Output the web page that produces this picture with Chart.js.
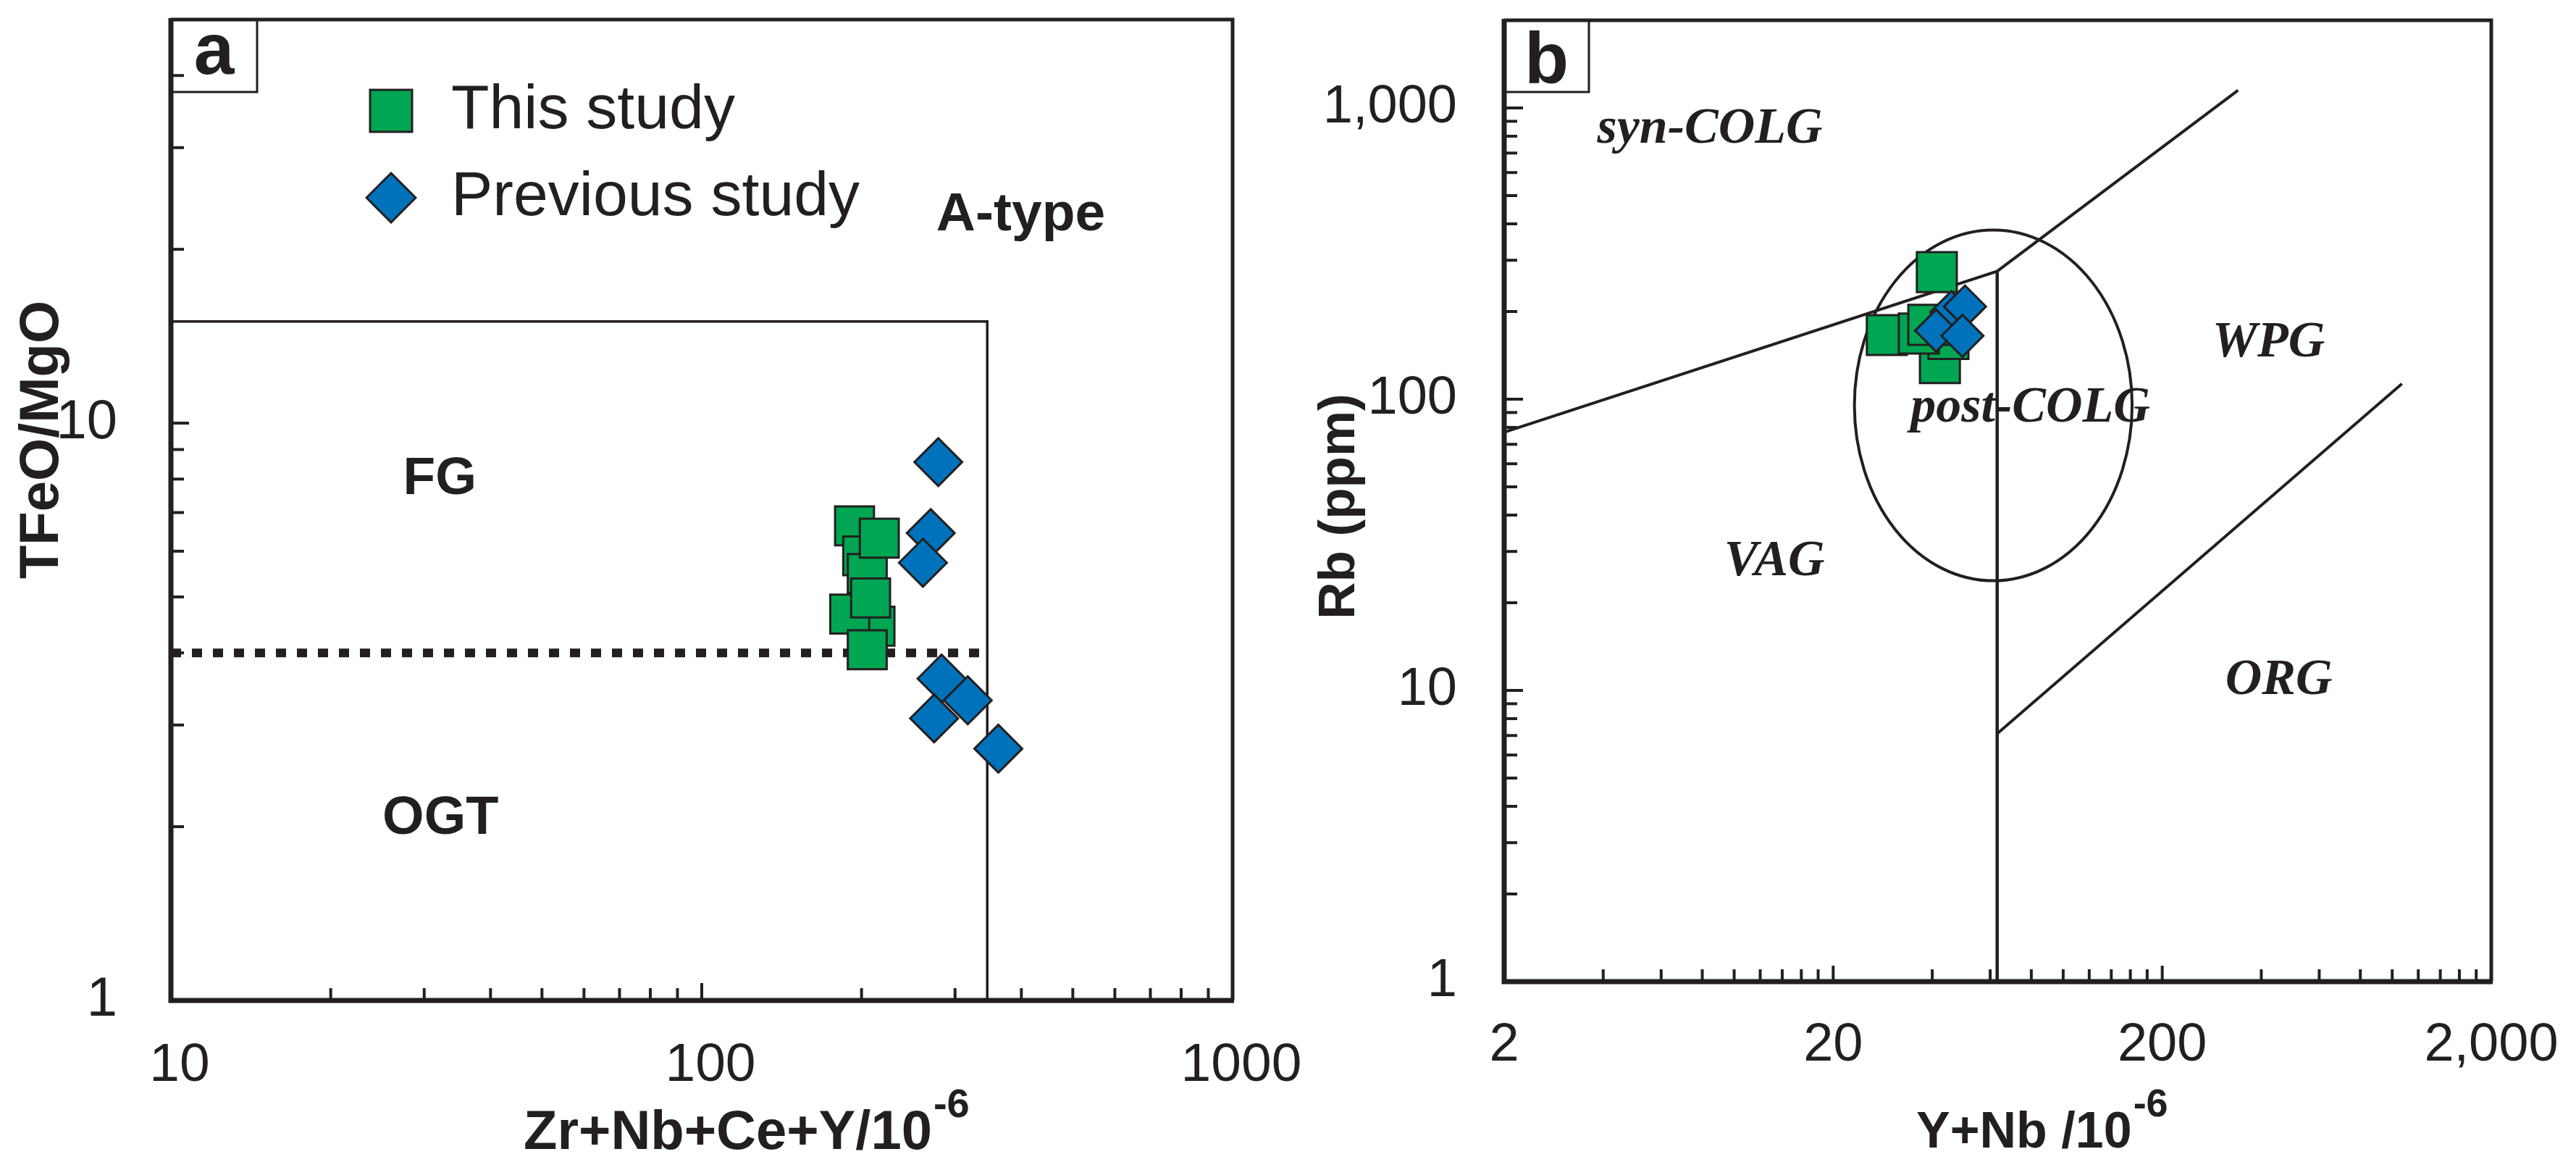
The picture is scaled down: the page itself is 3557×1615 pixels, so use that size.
<!DOCTYPE html>
<html><head><meta charset="utf-8">
<script src="https://cdn.jsdelivr.net/npm/chart.js@4.4.0/dist/chart.umd.min.js"></script>
<style>
html,body{margin:0;padding:0;background:#fff;}
body{width:3557px;height:1615px;position:relative;overflow:hidden;}
#wa{position:absolute;left:0;top:0;width:1850px;height:1615px;}
#wb{position:absolute;left:1780px;top:0;width:1777px;height:1615px;}
canvas{display:block;}
</style></head><body>
<div id="wa"><canvas id="ca" width="1850" height="1615"></canvas></div>
<div id="wb"><canvas id="cb" width="1777" height="1615"></canvas></div>
<script>
// ---------- Panel a : TFeO/MgO vs Zr+Nb+Ce+Y ----------
const aThisX = [194, 201, 205, 216, 212, 190, 208, 205];
const aThisY = [6.64, 5.89, 5.49, 6.32, 4.45, 4.67, 4.98, 4.05];
const aPrevX = [279, 270, 261, 283, 274, 317, 362];
const aPrevY = [8.56, 6.45, 5.73, 3.61, 3.08, 3.31, 2.73];
const aBoxX = [10, 345, 345];
const aBoxY = [15, 15, 1];
const aDotX = [10, 345];
const aDotY = [4, 4];
const aXTicks = [10,20,30,40,50,60,70,80,90,100,200,300,400,500,600,700,800,900,1000];
const aXLabelVals = [10, 100, 1000];
const aXLabelText = ['10', '100', '1000'];
const aXMajor = [100];
const aYTicks = [1,2,3,4,5,6,7,8,9,10,20,30,40,50];
const aYLabelVals = [1, 10];
const aYLabelText = ['1', '10'];
const aYMajor = [10];

// ---------- Panel b : Rb vs Y+Nb ----------
const bThisX = [42.2, 44.8, 29.1, 36.4, 38.9, 41.3];
const bThisY = [133, 161, 166, 168, 180, 273];
const bPrevX = [45.7, 50.3, 41.1, 49.4];
const bPrevY = [199, 208, 172, 165];
const bLine1X = [2, 63, 340];
const bLine1Y = [77, 275, 1150];
const bVertX = [63, 63];
const bVertY = [1, 275];
const bOrgX = [63, 1070];
const bOrgY = [7.1, 113];
const bEllipse = {xMin: 23.2, xMax: 162, yMin: 23.8, yMax: 381};
const bXTicks = [2,4,6,8,10,12,14,16,18,20,40,60,80,100,120,140,160,180,200,400,600,800,1000,1200,1400,1600,1800,2000];
const bXLabelVals = [2, 20, 200, 2000];
const bXLabelText = ['2', '20', '200', '2,000'];
const bXMajor = [20, 200];
const bYTicks = [1,2,3,4,5,6,7,8,9,10,20,30,40,50,60,70,80,90,100,200,300,400,500,600,700,800,900,1000,2000];
const bYLabelVals = [1, 10, 100, 1000];
const bYLabelText = ['1', '10', '100', '1,000'];
const bYMajor = [10, 100, 1000];

// ---------- styles ----------
const INK = '#231f20', GREEN = '#00a651', BLUE = '#0072bc';
const SANS = '"Liberation Sans", Arial, Helvetica, sans-serif';
const SERIF = '"Liberation Serif", "Times New Roman", serif';
Chart.defaults.color = INK;

const pts = (xs, ys) => xs.map((x, i) => ({x: x, y: ys[i]}));
const lab = (vals, texts) => (v) => { const i = vals.indexOf(v); return i < 0 ? '' : texts[i]; };

function markerImg(shape, size, fill) {
  const c = document.createElement('canvas');
  c.width = size; c.height = size;
  const g = c.getContext('2d');
  const m = size / 2, h = size / 2 - 2;
  g.fillStyle = fill; g.strokeStyle = INK; g.lineWidth = 3;
  g.beginPath();
  if (shape === 'square') g.rect(m - h, m - h, 2 * h, 2 * h);
  else { g.moveTo(m - h, m); g.lineTo(m, m - h); g.lineTo(m + h, m); g.lineTo(m, m + h); g.closePath(); }
  g.fill(); g.stroke();
  return c;
}
const sqImg = markerImg('square', 62, GREEN);
const diaImg = markerImg('diamond', 72, BLUE);

const decor = {
  id: 'decor',
  beforeDraw(chart, args, o) {
    if (o.legendPos && chart.legend) {
      chart.legend.left = o.legendPos.left;
      chart.legend.top = o.legendPos.top;
    }
  },
  beforeDatasetsDraw(chart, args, o) {
    const ctx = chart.ctx, xs = chart.scales.x, ys = chart.scales.y;
    ctx.save();
    if (o.ellipse) {
      const e = o.ellipse;
      const x1 = xs.getPixelForValue(e.xMin), x2 = xs.getPixelForValue(e.xMax);
      const y1 = ys.getPixelForValue(e.yMax), y2 = ys.getPixelForValue(e.yMin);
      ctx.beginPath();
      ctx.ellipse((x1 + x2) / 2, (y1 + y2) / 2, (x2 - x1) / 2, (y2 - y1) / 2, 0, 0, 2 * Math.PI);
      ctx.lineWidth = 4; ctx.strokeStyle = INK; ctx.stroke();
    }
    (o.regions || []).forEach(r => {
      ctx.font = r.font; ctx.fillStyle = INK;
      ctx.textAlign = 'center'; ctx.textBaseline = 'middle';
      ctx.fillText(r.text, xs.getPixelForValue(r.x), ys.getPixelForValue(r.y));
    });
    ctx.restore();
  },
  afterDraw(chart, args, o) {
    const ctx = chart.ctx, a = chart.chartArea, xs = chart.scales.x, ys = chart.scales.y;
    ctx.save();
    ctx.strokeStyle = INK; ctx.lineCap = 'butt';
    ctx.lineWidth = 4;
    xs.ticks.forEach(t => {
      if (t.value <= xs.min || t.value >= xs.max) return;
      const px = xs.getPixelForValue(t.value);
      const len = o.xMajor.includes(t.value) ? o.xLen[1] : o.xLen[0];
      ctx.beginPath(); ctx.moveTo(px, a.bottom); ctx.lineTo(px, a.bottom - len); ctx.stroke();
    });
    ys.ticks.forEach(t => {
      if (t.value <= ys.min || t.value >= ys.max) return;
      const py = ys.getPixelForValue(t.value);
      const len = o.yMajor.includes(t.value) ? o.yLen[1] : o.yLen[0];
      ctx.beginPath(); ctx.moveTo(a.left, py); ctx.lineTo(a.left + len, py); ctx.stroke();
    });
    // frame
    ctx.lineWidth = 5;
    ctx.beginPath(); ctx.moveTo(a.left, a.top); ctx.lineTo(a.right, a.top); ctx.lineTo(a.right, a.bottom); ctx.stroke();
    ctx.lineWidth = 7;
    ctx.beginPath(); ctx.moveTo(a.left, a.top - 2); ctx.lineTo(a.left, a.bottom); ctx.lineTo(a.right + 2, a.bottom); ctx.stroke();
    // panel letter box
    const pb = o.panel;
    ctx.lineWidth = 3;
    ctx.strokeRect(a.left, a.top, pb.w, pb.h);
    ctx.fillStyle = INK; ctx.font = 'bold 100px ' + SANS;
    ctx.textAlign = 'center'; ctx.textBaseline = 'alphabetic';
    ctx.fillText(pb.text, a.left + pb.w / 2, a.top + pb.base);
    // axis titles
    (o.titles || []).forEach(t => {
      ctx.save();
      ctx.font = t.font; ctx.fillStyle = INK; ctx.textBaseline = 'alphabetic';
      if (t.rot) {
        ctx.translate(t.x, t.y); ctx.rotate(-Math.PI / 2);
        ctx.textAlign = 'center'; ctx.fillText(t.text, 0, 0);
      } else {
        ctx.textAlign = 'left'; ctx.fillText(t.text, t.x, t.y);
        const w = ctx.measureText(t.text).width;
        ctx.font = t.supFont; ctx.fillText(t.sup, t.x + w + 2, t.y - t.rise);
      }
      ctx.restore();
    });
    ctx.restore();
  }
};

function logAxis(cfg) {
  return {
    type: 'logarithmic', min: cfg.min, max: cfg.max, position: cfg.position,
    afterBuildTicks: s => { s.ticks = cfg.ticks.map(v => ({value: v})); },
    afterFit: s => {
      if (cfg.position === 'bottom') { s.height = cfg.size; s.paddingLeft = 0; s.paddingRight = 0; }
      else { s.width = cfg.size; s.paddingTop = 0; s.paddingBottom = 0; }
    },
    grid: {display: false, drawTicks: false},
    border: {display: false},
    title: {display: false},
    ticks: {
      autoSkip: false, maxRotation: 0, minRotation: 0,
      padding: cfg.pad, labelOffset: cfg.offset || 0, color: INK,
      font: {family: SANS, size: cfg.fontSize},
      callback: cfg.callback
    }
  };
}

// ---------- Chart a ----------
new Chart(document.getElementById('ca'), {
  type: 'scatter',
  data: {datasets: [
    {label: 'This study', data: pts(aThisX, aThisY), pointStyle: 'rect', pointRadius: 38, pointHoverRadius: 38,
     backgroundColor: GREEN, borderColor: INK, borderWidth: 3, order: 1},
    {label: 'Previous study', data: pts(aPrevX, aPrevY), pointStyle: 'rectRot', pointRadius: 33, pointHoverRadius: 33,
     backgroundColor: BLUE, borderColor: INK, borderWidth: 3, order: 0},
    {label: 'A-type boundary', data: pts(aBoxX, aBoxY), showLine: true, pointRadius: 0, borderColor: INK,
     borderWidth: 3.5, fill: false, tension: 0, order: 2},
    {label: 'FG / OGT boundary', data: pts(aDotX, aDotY), showLine: true, pointRadius: 0, borderColor: INK,
     borderWidth: 12, borderDash: [14, 15], borderCapStyle: 'butt', fill: false, tension: 0, order: 2}
  ]},
  options: {
    responsive: false, animation: false, events: [],
    layout: {padding: {left: 0, top: 27, right: 148, bottom: 0}, autoPadding: false},
    scales: {
      x: logAxis({min: 10, max: 1000, position: 'bottom', ticks: aXTicks, size: 234, pad: 45, offset: 12,
                  fontSize: 75, callback: lab(aXLabelVals, aXLabelText)}),
      y: logAxis({min: 1, max: 50, position: 'left', ticks: aYTicks, size: 236, pad: 74,
                  fontSize: 76, callback: lab(aYLabelVals, aYLabelText)})
    },
    plugins: {
      tooltip: {enabled: false},
      legend: {
        display: true, position: 'chartArea', align: 'start',
        labels: {
          usePointStyle: true, boxWidth: 80, padding: 34, color: INK,
          font: {family: SANS, size: 86},
          generateLabels: chart => chart.data.datasets.slice(0, 2).map((ds, i) => ({
            text: ds.label, datasetIndex: i, pointStyle: i === 0 ? sqImg : diaImg,
            fillStyle: ds.backgroundColor, strokeStyle: INK, lineWidth: 3, hidden: false,
            fontColor: INK, textAlign: 'left'
          }))
        }
      },
      decor: {
        legendPos: {left: 466, top: 76},
        xMajor: aXMajor, yMajor: aYMajor, xLen: [17, 24], yLen: [18, 25],
        panel: {text: 'a', w: 119, h: 100, base: 75},
        regions: [
          {text: 'FG', x: 32.1, y: 7.99, font: 'bold 73px ' + SANS},
          {text: 'OGT', x: 32.2, y: 2.06, font: 'bold 74px ' + SANS},
          {text: 'A-type', x: 399, y: 22.9, font: 'bold 75px ' + SANS}
        ],
        titles: [
          {text: 'TFeO/MgO', rot: true, x: 80, y: 607, font: 'bold 76px ' + SANS},
          {text: 'Zr+Nb+Ce+Y/10', sup: '-6', x: 723, y: 1586, rise: 44,
           font: 'bold 76px ' + SANS, supFont: 'bold 56px ' + SANS}
        ]
      }
    }
  },
  plugins: [decor]
});

// ---------- Chart b ----------
new Chart(document.getElementById('cb'), {
  type: 'scatter',
  data: {datasets: [
    {label: 'This study', data: pts(bThisX, bThisY), pointStyle: 'rect', pointRadius: 39, pointHoverRadius: 39,
     backgroundColor: GREEN, borderColor: INK, borderWidth: 3, order: 1},
    {label: 'Previous study', data: pts(bPrevX, bPrevY), pointStyle: 'rectRot', pointRadius: 29, pointHoverRadius: 29,
     backgroundColor: BLUE, borderColor: INK, borderWidth: 3, order: 0},
    {label: 'syn-COLG boundary', data: pts(bLine1X, bLine1Y), showLine: true, pointRadius: 0, borderColor: INK,
     borderWidth: 4, fill: false, tension: 0, order: 2},
    {label: 'VAG / WPG boundary', data: pts(bVertX, bVertY), showLine: true, pointRadius: 0, borderColor: INK,
     borderWidth: 4.5, fill: false, tension: 0, order: 2},
    {label: 'ORG / WPG boundary', data: pts(bOrgX, bOrgY), showLine: true, pointRadius: 0, borderColor: INK,
     borderWidth: 4, fill: false, tension: 0, order: 2}
  ]},
  options: {
    responsive: false, animation: false, events: [],
    layout: {padding: {left: 0, top: 28, right: 117, bottom: 0}, autoPadding: false},
    scales: {
      x: logAxis({min: 2, max: 2000, position: 'bottom', ticks: bXTicks, size: 260, pad: 44,
                  fontSize: 74, callback: lab(bXLabelVals, bXLabelText)}),
      y: logAxis({min: 1, max: 2000, position: 'left', ticks: bYTicks, size: 297, pad: 65,
                  fontSize: 74, callback: lab(bYLabelVals, bYLabelText)})
    },
    plugins: {
      tooltip: {enabled: false},
      legend: {display: false},
      decor: {
        xMajor: bXMajor, yMajor: bYMajor, xLen: [17, 22], yLen: [18, 26],
        panel: {text: 'b', w: 117, h: 99, base: 87},
        ellipse: bEllipse,
        regions: [
          {text: 'syn-COLG', x: 8.44, y: 841, font: 'italic bold 70px ' + SERIF},
          {text: 'WPG', x: 421, y: 155.6, font: 'italic bold 70px ' + SERIF},
          {text: 'post-COLG', x: 79.5, y: 92.8, font: 'italic bold 70px ' + SERIF},
          {text: 'VAG', x: 13.26, y: 27.5, font: 'italic bold 70px ' + SERIF},
          {text: 'ORG', x: 452, y: 10.8, font: 'italic bold 70px ' + SERIF}
        ],
        titles: [
          {text: 'Rb (ppm)', rot: true, x: 90, y: 699, font: 'bold 71px ' + SANS},
          {text: 'Y+Nb /10', sup: '-6', x: 866, y: 1584, rise: 43,
           font: 'bold 70px ' + SANS, supFont: 'bold 54px ' + SANS}
        ]
      }
    }
  },
  plugins: [decor]
});
</script>
</body></html>
